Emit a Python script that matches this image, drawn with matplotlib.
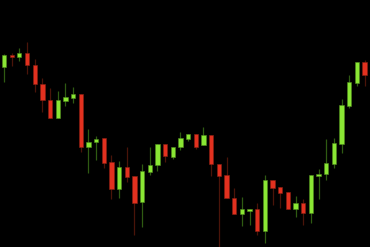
import matplotlib
matplotlib.use('Agg')
import matplotlib.pyplot as plt
import numpy as np

# precios (open, high, low, close)
abre = [179.7, 192, 189.7, 194, 182, 163, 147, 129.3, 146, 149.3, 153, 100.3, 104.7, 108.7, 85.3, 57.7,
        79.7, 71, 44.7, 74.7, 82, 102.7, 90.3, 100.3, 108.3, 113, 101.7, 112, 83, 72, 49.3, 32.7,
        36, 37.7, 16, 67, 59.7, 55, 37.7, 43.7, 33.7, 71.3, 73, 83, 103, 141.3, 164.3, 184.7]
alto = [192.5, 193.7, 198.7, 205.3, 187.7, 168.7, 158.7, 156.3, 164.3, 160.3, 153, 117.7, 111, 108.7, 92, 86,
        99.7, 71, 83, 100.3, 102.7, 102.7, 100.3, 114.7, 113, 113, 120.3, 112, 83, 89.7, 59.3, 50.3,
        38, 43.7, 72, 67, 59.7, 55, 51, 48, 71.7, 78, 108, 108.7, 147.7, 172, 185.3, 187]
bajo = [165.3, 181, 186.3, 172.7, 155.3, 135.3, 129.3, 129.3, 141.3, 143.7, 94.7, 73.7, 87, 78.7, 47.7, 49.3,
        65.3, 12, 20.3, 72, 76.3, 84.7, 88, 97, 106.3, 98, 101.7, 71, 0, 49.3, 32.7, 21.3,
        22, 12, 4.3, 42, 38.7, 38, 29.7, 22, 24.3, 48, 67, 78.7, 93.7, 138.7, 161, 161.3]
cierra = [192.3, 189.7, 193.7, 181.7, 162.7, 147, 129.3, 146.7, 150, 153, 100.3, 104.7, 108, 84.3, 57.7, 80,
          70.3, 44.3, 75.7, 82, 102.7, 91, 100.3, 108.7, 113, 100.3, 112, 82.7, 71, 49.3, 32.7, 37.7,
          38, 16, 67, 59.3, 54.3, 38, 43.7, 33.7, 71.7, 73.3, 83.7, 104.3, 142, 164.7, 185.3, 172]

o = np.array(abre)
h = np.array(alto)
l = np.array(bajo)
c = np.array(cierra)
x = np.arange(len(o))

sube = c >= o
col_cuerpo = np.where(sube, '#8ae634', '#e2311f')
col_borde = np.where(sube, '#4f8a1c', '#8a1f12')
col_mecha = np.where(sube, '#2f5a12', '#4a1409')

fig = plt.figure(figsize=(3.7, 2.47), dpi=100, facecolor='black')
ax = fig.add_axes([0, 0, 1, 1])
ax.set_facecolor('black')

# mechas
ax.vlines(x, l, h, colors=col_mecha, linewidth=0.9, zorder=1)

# cuerpos
base = np.minimum(o, c)
altura = np.maximum(np.abs(c - o), 1.5)
ax.bar(x, altura, bottom=base, width=0.56, color=col_cuerpo, edgecolor=col_borde,
       linewidth=0.4, zorder=2)

ax.set_xlim(-0.52, 47.7)
ax.set_ylim(0, 247)
ax.axis('off')

fig.savefig('out.png', dpi=100, facecolor='black')
